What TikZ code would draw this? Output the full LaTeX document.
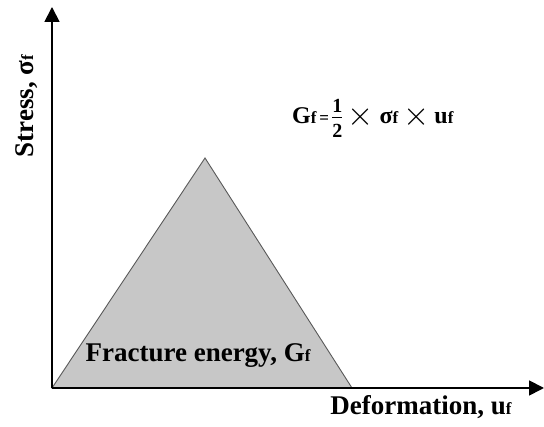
\documentclass[tikz,border=0pt]{standalone}
\usepackage{amsmath}
\usepackage{fontspec}
\setmainfont{Liberation Serif}
\usetikzlibrary{arrows.meta}
\newcommand{\lo}[1]{{\fontsize{17pt}{17pt}\selectfont #1}}
\newcommand{\tms}{\raisebox{-2pt}{\scalebox{1.35}{$\times$}}}
\newcommand{\num}[1]{\text{\fontsize{20pt}{20pt}\selectfont\bfseries #1}}
\newcommand{\half}{$\genfrac{}{}{0.9pt}{1}{\num{1}\rule[-3.5pt]{0pt}{3.5pt}}{\num{2}\rule{0pt}{18pt}}$}

\begin{document}
\begin{tikzpicture}[
  x=1pt, y=1pt,
  axis/.style={line width=1.8pt, -{Triangle[length=15pt, width=15pt]}},
  area/.style={draw=black!65, line width=0.9pt, fill=black!22},
  lbl/.style={font=\fontsize{27pt}{29pt}\selectfont\bfseries, inner sep=0pt, anchor=base}
]
\useasboundingbox (0,0) rectangle (544,427);
\coordinate (o) at (52,39);
\coordinate (ytop) at (52,420);
\coordinate (xend) at (544,39);
\coordinate (peak) at (205,269);
\coordinate (tail) at (352,39);

\filldraw[area] (o) -- (peak) -- (tail) -- cycle;
\draw[axis] (o) -- (ytop);
\draw[axis] (o) -- (xend);

\node[lbl] (energy) at (198,65) {Fracture energy, G\lo{f}};
\node[lbl] (xlabel) at (421,12) {Deformation, u\lo{f}};
\node[lbl, rotate=90] (ylabel) at (33,321) {Stress, σ\lo{f}};
\node[lbl, font=\fontsize{24pt}{26pt}\selectfont\bfseries, anchor=base west] (formula) at (292,303)
  {G\lo{f\,=}\hspace{2pt}\half\hspace{4pt}\tms\hspace{6pt}σ\lo{f}\hspace{5pt}\tms\hspace{5pt}u\lo{f}};
\end{tikzpicture}
\end{document}
